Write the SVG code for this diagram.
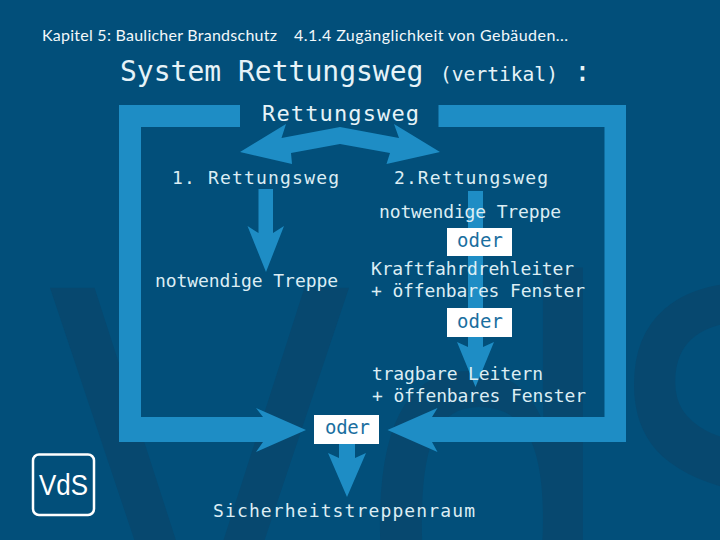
<svg xmlns="http://www.w3.org/2000/svg" width="720" height="540" viewBox="0 0 720 540">
<style>
text{font-family:"DejaVu Sans Mono","Liberation Mono",monospace;fill:#e6f3f8}
.h{font-family:"Lato","Open Sans",sans-serif;font-size:16px;fill:#f2f8fa}
.l{font-size:18px;fill:#dcedf4}
.o{font-size:19px;fill:#1b6f9f}
.box{fill:#fff}
.a{fill:#1e8dc5}
.wm{font-family:"Liberation Sans",Arial,sans-serif;font-size:554px;letter-spacing:12px;fill:#07486f}
</style>
<rect width="720" height="540" fill="#024f7a"/>
<g id="watermark"><text class="wm" transform="translate(48,669) scale(.82,1)" dx="0 0 -30">VdS</text></g>
<g id="connectors">
<path class="a" d="M240,105H119V442H263L256,452L306,430L256,408L263,417H141V127H240Z"/>
<path class="a" d="M438.500,105H626V442H432L437.500,452L387.500,430L437.500,408L432,417H604.500V127H438.500Z"/>
<path class="a" d="M240,152L286,124L281.500,138L340,127L399,138L394,124L440,152L386.500,164L390,153L340,144L291,153L292,164Z"/>
<path class="a" d="M258.500,189H273V233L284,226L266,272L247.500,226L258.500,233Z"/>
<path class="a" d="M468,191H483V347L494,342L475.500,387L457,342L468,347Z"/>
<path class="a" d="M339,444H355V458L366,453L347,497L328,453L339,458Z"/>
</g>
<g id="header">
<text class="h" x="42" y="41" textLength="235">Kapitel 5: Baulicher Brandschutz</text>
<text class="h" x="294" y="41" textLength="274">4.1.4  Zugänglichkeit von Gebäuden...</text>
<text x="120" y="81" font-size="28">System Rettungsweg</text>
<text x="440" y="81" font-size="19.600">(vertikal)</text>
<text x="574" y="81" font-size="28">:</text>
</g>
<g id="node-rettungsweg"><text x="262" y="121" font-size="22" textLength="157">Rettungsweg</text></g>
<g id="node-weg1"><text class="l" x="172" y="184" textLength="167">1. Rettungsweg</text></g>
<g id="node-weg2"><text class="l" x="394" y="184" textLength="154">2.Rettungsweg</text></g>
<g id="node-treppe1"><text class="l" x="155" y="287" textLength="183">notwendige Treppe</text></g>
<g id="node-treppe2"><text class="l" x="379" y="218" textLength="182">notwendige Treppe</text></g>
<g id="node-oder1"><rect class="box" x="447" y="228" width="65" height="28"/><text class="o" x="457" y="247" textLength="46">oder</text></g>
<g id="node-kraft"><text class="l" x="371" y="275" textLength="203">Kraftfahrdrehleiter</text><text class="l" x="371" y="297" textLength="214">+ öffenbares Fenster</text></g>
<g id="node-oder2"><rect class="box" x="447" y="308" width="65" height="29"/><text class="o" x="457" y="328" textLength="46">oder</text></g>
<g id="node-tragbar"><text class="l" x="372" y="380" textLength="171">tragbare Leitern</text><text class="l" x="372" y="402" textLength="214">+ öffenbares Fenster</text></g>
<g id="node-oder3"><rect class="box" x="314" y="415" width="65" height="29"/><text class="o" x="325" y="434" textLength="45">oder</text></g>
<g id="node-sicher"><text class="l" x="213" y="517" textLength="262">Sicherheitstreppenraum</text></g>
<g id="logo"><rect x="33" y="454.500" width="61" height="60.500" rx="6" fill="none" stroke="#fff" stroke-width="2.500"/><text x="39" y="495" style="font-family:'Liberation Sans',Arial,sans-serif;fill:#fff" font-size="29" textLength="49" lengthAdjust="spacingAndGlyphs">VdS</text></g>
</svg>
